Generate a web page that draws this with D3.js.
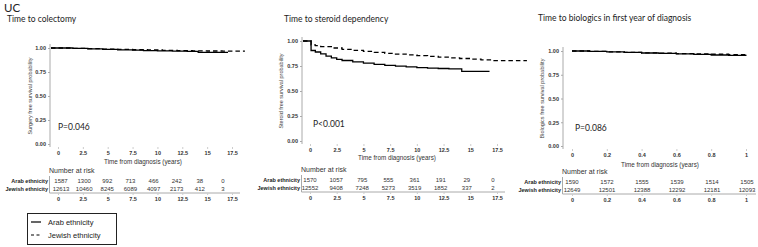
<!DOCTYPE html>
<html lang="en">
<head>
<meta charset="UTF-8">
<title>UC survival</title>
<style>
  body { margin: 0; background: #fff; }
  svg { display: block; }
</style>
</head>
<body>
<script src="https://cdn.jsdelivr.net/npm/d3@7"></script>
<script>
// ---- data ----
const yTicks = [0, 0.25, 0.5, 0.75, 1]
const yearTicks = [0, 2.5, 5, 7.5, 10, 12.5, 15, 17.5]
const firstYearTicks = [0, 0.2, 0.4, 0.6, 0.8, 1]
const groups = ["Arab ethnicity", "Jewish ethnicity"]

// colectomy
const colArabT = [0, 1.5, 3, 4.5, 6, 7.5, 8.6, 10, 11.5, 13, 14.1, 17.1]
const colArabS = [1, 0.996, 0.991, 0.986, 0.981, 0.977, 0.972, 0.970, 0.967, 0.964, 0.955, 0.955]
const colJewT = [0, 1.5, 3, 4.5, 6, 7.5, 9, 10.5, 12, 13.5, 15, 16.5, 18.8]
const colJewS = [1, 0.997, 0.993, 0.989, 0.985, 0.982, 0.979, 0.976, 0.973, 0.971, 0.969, 0.968, 0.968]
const colRiskArab = [1587, 1300, 992, 713, 466, 242, 38, 0]
const colRiskJew = [12613, 10460, 8245, 6089, 4097, 2173, 412, 3]

// steroid dependency
const sterArabT = [0, 0.1, 0.5, 1, 1.5, 2, 2.5, 3, 4, 5, 6, 7, 8, 9, 10, 11, 12, 13, 14.2, 16.8]
const sterArabS = [1, 0.905, 0.89, 0.872, 0.848, 0.832, 0.817, 0.805, 0.792, 0.778, 0.767, 0.757, 0.748, 0.741, 0.734, 0.729, 0.725, 0.721, 0.697, 0.697]
const sterJewT = [0, 0.1, 0.5, 1, 2, 3, 4, 5, 6, 7, 8, 9, 10, 11, 12, 13, 14, 15, 16, 17, 20.3]
const sterJewS = [1, 0.962, 0.953, 0.944, 0.93, 0.917, 0.906, 0.896, 0.886, 0.877, 0.869, 0.861, 0.853, 0.846, 0.839, 0.832, 0.825, 0.818, 0.811, 0.804, 0.804]
const sterRiskArab = [1570, 1057, 795, 555, 361, 191, 29, 0]
const sterRiskJew = [12552, 9408, 7248, 5273, 3519, 1852, 337, 2]

// biologics in first year
const bioArabT = [0, 0.1, 0.2, 0.3, 0.4, 0.5, 0.6, 0.7, 0.8, 0.9, 1]
const bioArabS = [1, 0.996, 0.99, 0.985, 0.979, 0.975, 0.969, 0.964, 0.958, 0.953, 0.949]
const bioJewT = [0, 0.1, 0.2, 0.3, 0.4, 0.5, 0.6, 0.7, 0.8, 0.9, 1]
const bioJewS = [1, 0.996, 0.991, 0.986, 0.981, 0.977, 0.973, 0.969, 0.966, 0.962, 0.959]
const bioRiskArab = [1590, 1572, 1555, 1539, 1514, 1505]
const bioRiskJew = [12649, 12501, 12388, 12292, 12181, 12093]

const width = 758, height = 247
const sans = "'Liberation Sans', Arial, sans-serif"
const cal = "Lato, 'Open Sans', sans-serif"

const svg = d3.select("body").append("svg")
  .attr("width", width).attr("height", height)

svg.append("text").attr("x", 4).attr("y", 12)
  .attr("font-family", cal).attr("font-size", 11.5).attr("fill", "#222")
  .text("UC")

const panels = [
  {title: "Time to colectomy", tx: 7, ty: 22, ylab: "Surgery free survival probability", ylx: 32,
   axisX: 50, x0: 58, x1: 232, y1: 48, y0: 144, ticks: yearTicks, startAtAxis: true,
   arab: [colArabT, colArabS], jew: [colJewT, colJewS], p: "P=0.046", px: 58, py: 130,
   xlab: 143, rx0: 61, rx1: 223, lineEnd: 240, riskArab: colRiskArab, riskJew: colRiskJew, dy: 0},
  {title: "Time to steroid dependency", tx: 284, ty: 22, ylab: "Steroid free survival probability", ylx: 283,
   axisX: 302, x0: 310, x1: 497, y1: 41, y0: 141, ticks: yearTicks, startAtAxis: true,
   arab: [sterArabT, sterArabS], jew: [sterJewT, sterJewS], p: "P<0.001", px: 313, py: 127,
   xlab: 397, rx0: 310, rx1: 493, lineEnd: 505, riskArab: sterRiskArab, riskJew: sterRiskJew, dy: -1},
  {title: "Time to biologics in first year of diagnosis", tx: 538, ty: 21, ylab: "Biologics free survival probability", ylx: 544,
   axisX: 563, x0: 572, x1: 746, y1: 51, y0: 146, ticks: firstYearTicks, startAtAxis: false,
   arab: [bioArabT, bioArabS], jew: [bioJewT, bioJewS], p: "P=0.086", px: 575, py: 131,
   xlab: 660, rx0: 572, rx1: 747, lineEnd: 756, riskArab: bioRiskArab, riskJew: bioRiskJew, dy: 1}
]

panels.forEach(p => {
  const g = svg.append("g")
  const last = p.ticks[p.ticks.length - 1]
  const x = d3.scaleLinear().domain([0, last]).range([p.x0, p.x1])
  const y = d3.scaleLinear().domain([0, 1]).range([p.y0, p.y1])

  g.append("text").attr("x", p.tx).attr("y", p.ty)
    .attr("font-family", cal).attr("font-size", 8.5).attr("fill", "#222")
    .text(p.title)

  // y axis
  const ya = g.append("g").attr("transform", `translate(${p.axisX},0)`)
    .call(d3.axisLeft(y).tickValues(yTicks).tickFormat(d3.format(".2f")).tickSize(2).tickPadding(2))
  ya.select(".domain").attr("stroke", "#aaa").attr("d", `M0,${p.y1 - 4}V${p.y0 + 3}`)
  ya.selectAll(".tick line").attr("stroke", "#aaa")
  ya.selectAll(".tick text").attr("font-family", sans).attr("font-size", 5.5)
    .attr("font-weight", "bold").attr("fill", "#333")

  g.append("text")
    .attr("transform", `translate(${p.ylx},${(p.y0 + p.y1) / 2}) rotate(-90)`)
    .attr("text-anchor", "middle").attr("font-family", sans).attr("font-size", 5.5).attr("fill", "#444")
    .text(p.ylab)

  // x axis (no domain line)
  const xa = g.append("g").attr("transform", `translate(0,${p.y0 + 3})`)
    .call(d3.axisBottom(x).tickValues(p.ticks).tickFormat(d => d).tickSize(2).tickPadding(2))
  xa.select(".domain").remove()
  xa.selectAll(".tick line").attr("stroke", "#ccc")
  xa.selectAll(".tick text").attr("font-family", sans).attr("font-size", 5.5)
    .attr("font-weight", "bold").attr("fill", "#333")

  g.append("text").attr("x", p.xlab).attr("y", p.y0 + 20 + p.dy)
    .attr("text-anchor", "middle").attr("font-family", sans).attr("font-size", 6.3).attr("fill", "#333")
    .text("Time from diagnosis (years)")

  // survival curves
  const line = d3.line().x(d => x(d[0])).y(d => y(d[1])).curve(d3.curveStepAfter)
  const tStart = p.startAtAxis ? x.invert(p.axisX + 1) : 0
  const series = [
    {pts: p.arab, dash: null},
    {pts: p.jew, dash: "4.5,3"}
  ]
  series.slice().reverse().forEach(s => {
    const pts = s.pts[0].map((t, i) => [t, s.pts[1][i]])
    if (tStart < 0) pts.unshift([tStart, pts[0][1]])
    g.append("path").attr("d", line(pts)).attr("fill", "none")
      .attr("stroke", "#000").attr("stroke-width", 1.3)
      .attr("stroke-dasharray", s.dash)
  })

  g.append("text").attr("x", p.px).attr("y", p.py)
    .attr("font-family", cal).attr("font-size", 8.5).attr("fill", "#222")
    .text(p.p)

  // number at risk table
  const rx = d3.scaleLinear().domain([0, last]).range([p.rx0, p.rx1])
  const top = 171 + p.dy
  g.append("text").attr("x", p.axisX - 1).attr("y", top + 2)
    .attr("font-family", sans).attr("font-size", 7).attr("fill", "#333")
    .text("Number at risk")

  const rows = [p.riskArab, p.riskJew]
  rows.forEach((vals, r) => {
    const ry = top + 12 + r * 8
    g.append("text").attr("x", p.axisX - 2).attr("y", ry)
      .attr("text-anchor", "end").attr("font-family", sans).attr("font-size", 5.5)
      .attr("font-weight", "bold").attr("fill", "#222")
      .text(groups[r])
    g.selectAll(null).data(vals).enter().append("text")
      .attr("x", (d, i) => rx(p.ticks[i]))
      .attr("y", ry)
      .attr("text-anchor", "middle").attr("font-family", sans).attr("font-size", 6).attr("fill", "#333")
      .text(d => d)
  })
  g.append("path").attr("d", `M${p.axisX - 0.5},${top + 5}V${top + 22}H${p.lineEnd}`)
    .attr("fill", "none").attr("stroke", "#aaa").attr("stroke-width", 1)

  const ba = g.append("g").attr("transform", `translate(0,${top + 22})`)
    .call(d3.axisBottom(x).tickValues(p.ticks).tickFormat(d => d).tickSize(2).tickPadding(2))
  ba.select(".domain").remove()
  ba.selectAll(".tick line").attr("stroke", "#ccc")
  ba.selectAll(".tick text").attr("font-family", sans).attr("font-size", 5.5)
    .attr("font-weight", "bold").attr("fill", "#333")
})

// legend
const lg = svg.append("g")
lg.append("rect").attr("x", 27.5).attr("y", 213.5).attr("width", 89).attr("height", 31)
  .attr("fill", "#fff").attr("stroke", "#222").attr("stroke-width", 1)
groups.forEach((name, i) => {
  const ly = 222 + i * 13
  lg.append("line").attr("x1", 31).attr("x2", 41).attr("y1", ly).attr("y2", ly)
    .attr("stroke", "#000").attr("stroke-width", 1.2)
    .attr("stroke-dasharray", i ? "3,2.5" : null)
  lg.append("text").attr("x", 48).attr("y", ly + 2.6)
    .attr("font-family", sans).attr("font-size", 7.5).attr("fill", "#222")
    .text(name)
})
</script>
</body>
</html>
